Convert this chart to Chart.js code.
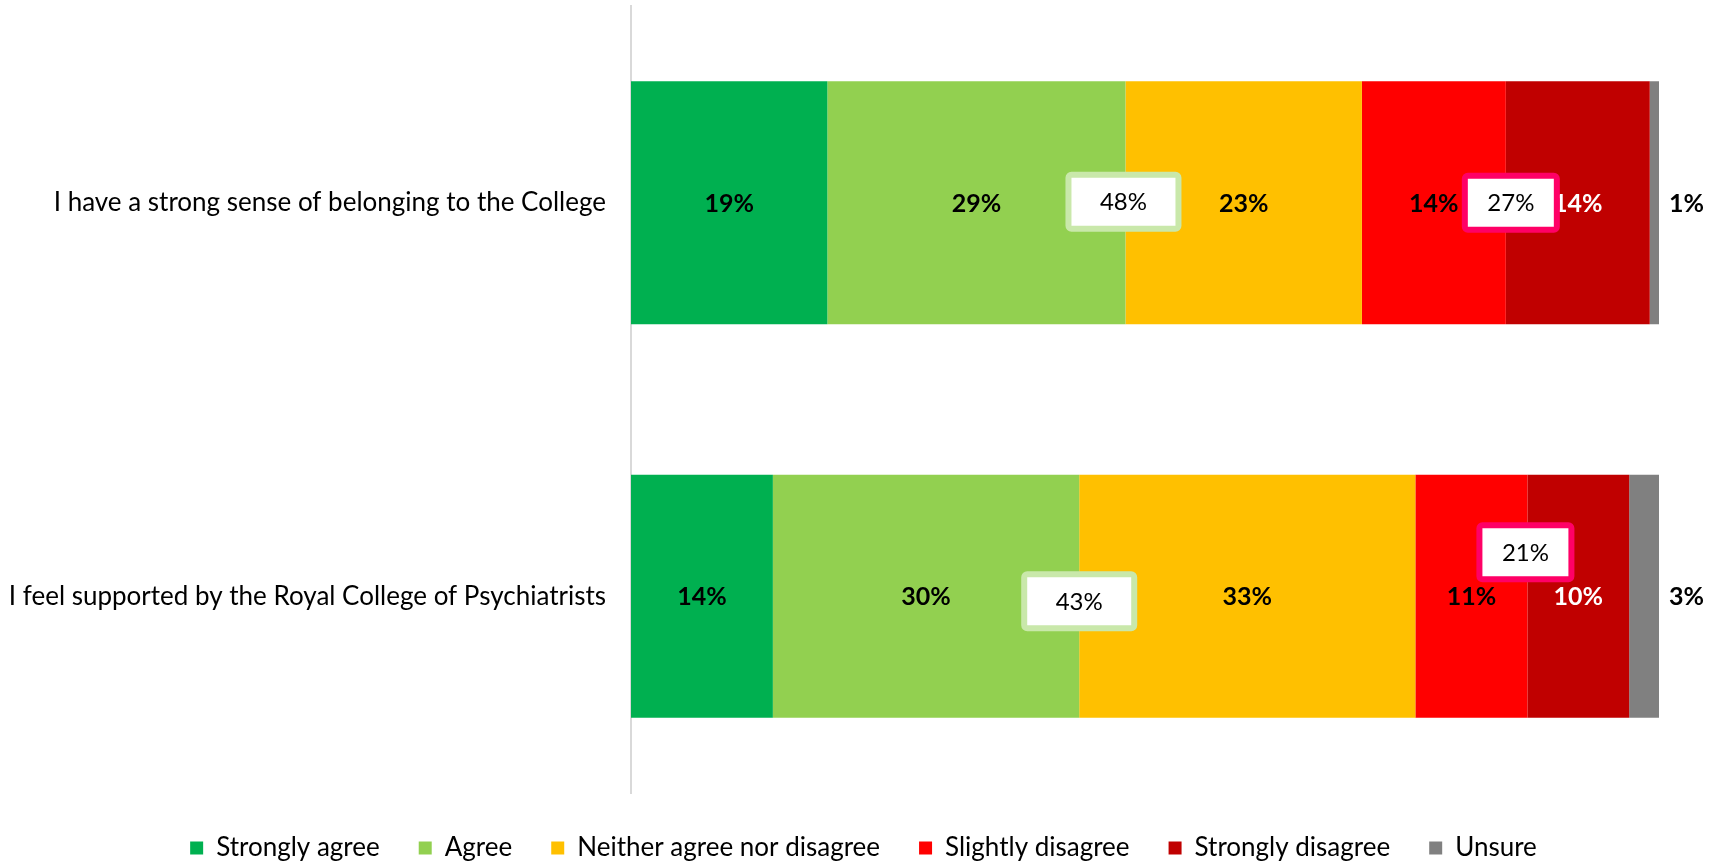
<!DOCTYPE html>
<html><head><meta charset="utf-8">
<script src="https://cdn.jsdelivr.net/npm/chart.js@4/dist/chart.umd.min.js"></script>
<style>html,body{margin:0;padding:0;background:#fff;}</style>
</head><body>
<canvas id="c" width="1717" height="862" style="display:block;width:1717px;height:862px"></canvas>
<script>
// ---- data ----
const categories = ["I have a strong sense of belonging to the College", "I feel supported by the Royal College of Psychiatrists"];
const seriesNames = ["Strongly agree", "Agree", "Neither agree nor disagree", "Slightly disagree", "Strongly disagree", "Unsure"];
const stronglyAgree = [19.1, 13.8];
const agree = [29.0, 29.8];
const neither = [23.0, 32.7];
const slightlyDisagree = [14.0, 10.9];
const stronglyDisagree = [14.0, 9.9];
const unsure = [0.9, 2.9];
const agreeTotalLabels = ["48%", "43%"];
const disagreeTotalLabels = ["27%", "21%"];

// ---- styles ----
const colors = ["#00B050", "#92D050", "#FFC000", "#FF0000", "#C00000", "#808080"];
const labelColors = ["#000", "#000", "#000", "#000", "#fff", "#000"];
const FONT = "Lato";
const LEGEND_SHIFT_X = 34;
const LEGEND_SHIFT_Y = 3;
const calloutStyle = {
  agree: { border: "#C9E8AA", w: 116, h: 60, dx: [-2, 0], dy: [-1, 5] },
  disagree: { border: "#FF0066", w: 98, h: 60, dx: [5, -2], dy: [0, -44] }
};

const seriesData = [stronglyAgree, agree, neither, slightlyDisagree, stronglyDisagree, unsure];

const legendShift = {
  id: "legendShift",
  afterLayout(chart) {
    const lg = chart.legend;
    if (lg) {
      lg.left += LEGEND_SHIFT_X; lg.right += LEGEND_SHIFT_X;
      lg.top += LEGEND_SHIFT_Y; lg.bottom += LEGEND_SHIFT_Y;
    }
  }
};

const valueLabels = {
  id: "valueLabels",
  afterDatasetsDraw(chart) {
    const ctx = chart.ctx;
    ctx.save();
    ctx.font = "bold 25px " + FONT;
    ctx.textBaseline = "middle";
    chart.data.datasets.forEach((ds, di) => {
      const meta = chart.getDatasetMeta(di);
      meta.data.forEach((bar, i) => {
        const txt = Math.round(ds.data[i]) + "%";
        ctx.fillStyle = labelColors[di];
        if (di === 5) {
          ctx.textAlign = "left";
          ctx.fillText(txt, bar.x + 10, bar.y + 1);
        } else {
          ctx.textAlign = "center";
          ctx.fillText(txt, (bar.x + bar.base) / 2, bar.y + 1);
        }
      });
    });
    // callout boxes
    const drawBox = (cx, cy, st, txt) => {
      const lw = 6;
      ctx.beginPath();
      ctx.roundRect(cx - st.w / 2 + lw / 2, cy - st.h / 2 + lw / 2, st.w - lw, st.h - lw, 3);
      ctx.fillStyle = "#fff";
      ctx.fill();
      ctx.lineWidth = lw;
      ctx.strokeStyle = st.border;
      ctx.stroke();
      ctx.fillStyle = "#000";
      ctx.font = "24px " + FONT;
      ctx.textAlign = "center";
      ctx.textBaseline = "middle";
      ctx.fillText(txt, cx, cy + 1);
    };
    const agreeMeta = chart.getDatasetMeta(1);
    const slightMeta = chart.getDatasetMeta(3);
    agreeMeta.data.forEach((bar, i) => {
      const st = calloutStyle.agree;
      drawBox(bar.x + st.dx[i], bar.y + st.dy[i], st, agreeTotalLabels[i]);
    });
    slightMeta.data.forEach((bar, i) => {
      const st = calloutStyle.disagree;
      drawBox(bar.x + st.dx[i], bar.y + st.dy[i], st, disagreeTotalLabels[i]);
    });
    ctx.restore();
  }
};

new Chart(document.getElementById("c"), {
  type: "bar",
  data: {
    labels: categories,
    datasets: seriesNames.map((n, i) => ({
      label: n,
      data: seriesData[i],
      backgroundColor: colors[i],
      borderWidth: 0,
      categoryPercentage: 1,
      barPercentage: 0.618
    }))
  },
  options: {
    responsive: false,
    animation: false,
    indexAxis: "y",
    layout: { padding: { left: 0, right: 58, top: 6, bottom: -6 } },
    scales: {
      x: { stacked: true, min: 0, max: 100, display: false },
      y: {
        stacked: true,
        grid: { display: false, drawTicks: false },
        border: { display: true, color: "#D9D9D9", width: 2 },
        ticks: { padding: 25, color: "#000", font: { family: FONT, size: 26 } },
        afterFit(s) { s.width = 631; s.paddingTop = 0; s.paddingBottom = 0; }
      }
    },
    plugins: {
      legend: {
        position: "bottom",
        labels: { boxWidth: 13, boxHeight: 13, padding: 39, color: "#000", font: { family: FONT, size: 26 } }
      },
      tooltip: { enabled: false }
    }
  },
  plugins: [legendShift, valueLabels]
});
</script>
</body></html>
